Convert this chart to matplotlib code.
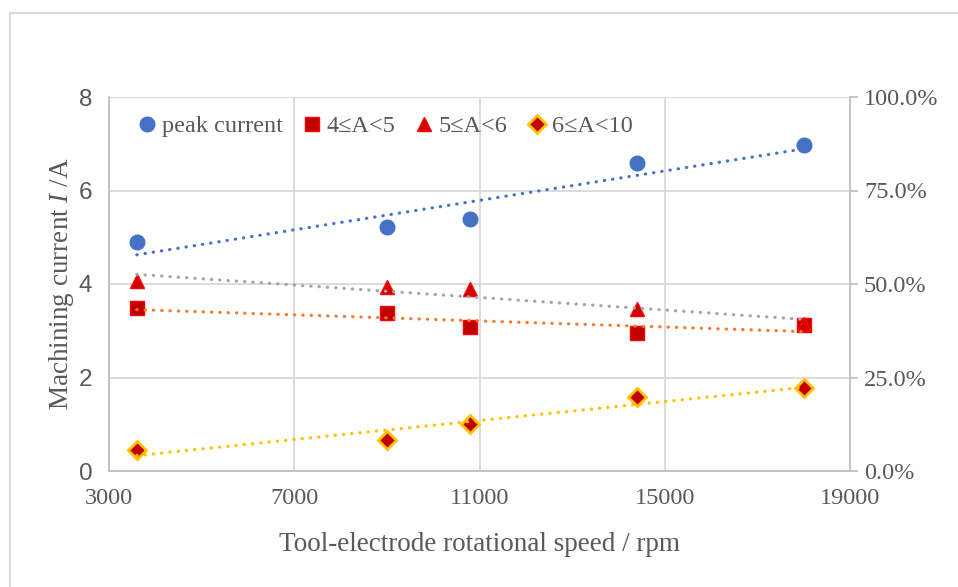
import numpy as np
import matplotlib
matplotlib.use("Agg")
import matplotlib.pyplot as plt
from matplotlib.lines import Line2D
from matplotlib.ticker import FuncFormatter

plt.rcParams['font.family'] = ['Liberation Serif', 'DejaVu Serif']
plt.rcParams['mathtext.fontset'] = 'custom'
plt.rcParams['mathtext.rm'] = 'Liberation Serif'
plt.rcParams['mathtext.it'] = 'Liberation Serif:italic'

speed = [3600, 9000, 10800, 14400, 18000]
peak_current = [4.90, 5.22, 5.39, 6.59, 6.97]
share_4_5 = [0.436, 0.423, 0.385, 0.369, 0.390]
share_5_6 = [0.508, 0.493, 0.487, 0.433, 0.392]
share_6_10 = [0.056, 0.083, 0.126, 0.198, 0.222]

labels = ["peak current", "4≤A<5", "5≤A<6", "6≤A<10"]
x_ticks = [3000, 7000, 11000, 15000, 19000]
y_ticks = [0, 2, 4, 6, 8]
y2_ticks = [0, 0.25, 0.5, 0.75, 1.0]

W, H = 958, 587
fig = plt.figure(figsize=(W / 100, H / 100), dpi=100)
ax = fig.add_axes([109 / W, 1 - 471 / H, (850 - 109) / W, (471 - 97) / H])
ax2 = ax.twinx()

grey_txt = '#595959'
grid_c = '#D9D9D9'
fs = 17.5
fs_lab = 19.5

ax.set_xlim(3000, 19000)
ax.set_ylim(0, 8)
ax2.set_ylim(0, 1)
ax.set_xticks(x_ticks)
ax.set_yticks(y_ticks)
ax2.set_yticks(y2_ticks)
ax.grid(True, color=grid_c, lw=1.3)
ax.set_axisbelow(True)

for a in (ax, ax2):
    for s in a.spines.values():
        s.set_visible(False)
ax.spines['left'].set_visible(True)
ax.spines['left'].set_color('#BFBFBF')
ax.spines['bottom'].set_visible(True)
ax.spines['bottom'].set_color('#BFBFBF')
ax2.spines['right'].set_visible(True)
ax2.spines['right'].set_color('#BFBFBF')
for a in (ax, ax2):
    for s in a.spines.values():
        s.set_linewidth(1.3)

ax.tick_params(axis='x', length=0, pad=12, labelsize=fs, labelcolor=grey_txt)
ax.tick_params(axis='y', length=0, pad=12, labelsize=fs, labelcolor=grey_txt)
for t in ax.get_yticklabels():
    t.set_fontfamily('Liberation Sans')
ax2.tick_params(axis='y', length=6, width=1.3, color='#BFBFBF', pad=4,
                labelsize=fs, labelcolor=grey_txt)
ax2.yaxis.set_major_formatter(FuncFormatter(lambda v, p: f"{v*100:.1f}%"))

ax.set_xlabel("Tool-electrode rotational speed / rpm", fontsize=fs_lab, color=grey_txt, labelpad=17)
ax.set_ylabel("Machining current $I$ /A", fontsize=fs_lab, color=grey_txt, labelpad=2)

xs = np.array(speed, dtype=float)

def trend(a, y, color, z):
    k, b = np.polyfit(xs, np.array(y), 1)
    xx = np.array([xs.min(), xs.max()])
    a.plot(xx, k * xx + b, color=color, lw=2.3, ls=(0, (0.1, 2.5)),
           dash_capstyle='round', zorder=z)

# markers
h1, = ax.plot(speed, peak_current, 'o', ms=10.5, color='#4472C4', mec='#4472C4', zorder=3)
h2, = ax2.plot(speed, share_4_5, 's', ms=10, color='#C00000', mec='#FF0000', mew=1, zorder=3)
h3, = ax2.plot(speed, share_5_6, '^', ms=10.5, color='#D00000', mec='#FF0000', mew=1, zorder=3)
h4, = ax2.plot(speed, share_6_10, 'D', ms=9, color='#C00000', mec='#FFC000', mew=2, zorder=3)

trend(ax, peak_current, '#4472C4', 4)
trend(ax2, share_5_6, '#A5A5A5', 4)
trend(ax2, share_4_5, '#ED7D31', 4)
trend(ax2, share_6_10, '#FFC000', 4)

leg = ax2.legend([h1, h2, h3, h4], labels, loc='upper left',
                 bbox_to_anchor=(0.007, 1.0), ncol=4, frameon=False,
                 fontsize=fs, handletextpad=0.0, columnspacing=0.6,
                 handlelength=1.2, borderaxespad=0.45, borderpad=0.3)
for t in leg.get_texts():
    t.set_color(grey_txt)

# chart border
fig.add_artist(Line2D([10 / W, 1], [1 - 13 / H, 1 - 13 / H], color='#D9D9D9', lw=1.5,
                      transform=fig.transFigure))
fig.add_artist(Line2D([10 / W, 10 / W], [0, 1 - 13 / H], color='#D9D9D9', lw=1.5,
                      transform=fig.transFigure))

fig.savefig("out.png", dpi=100)
